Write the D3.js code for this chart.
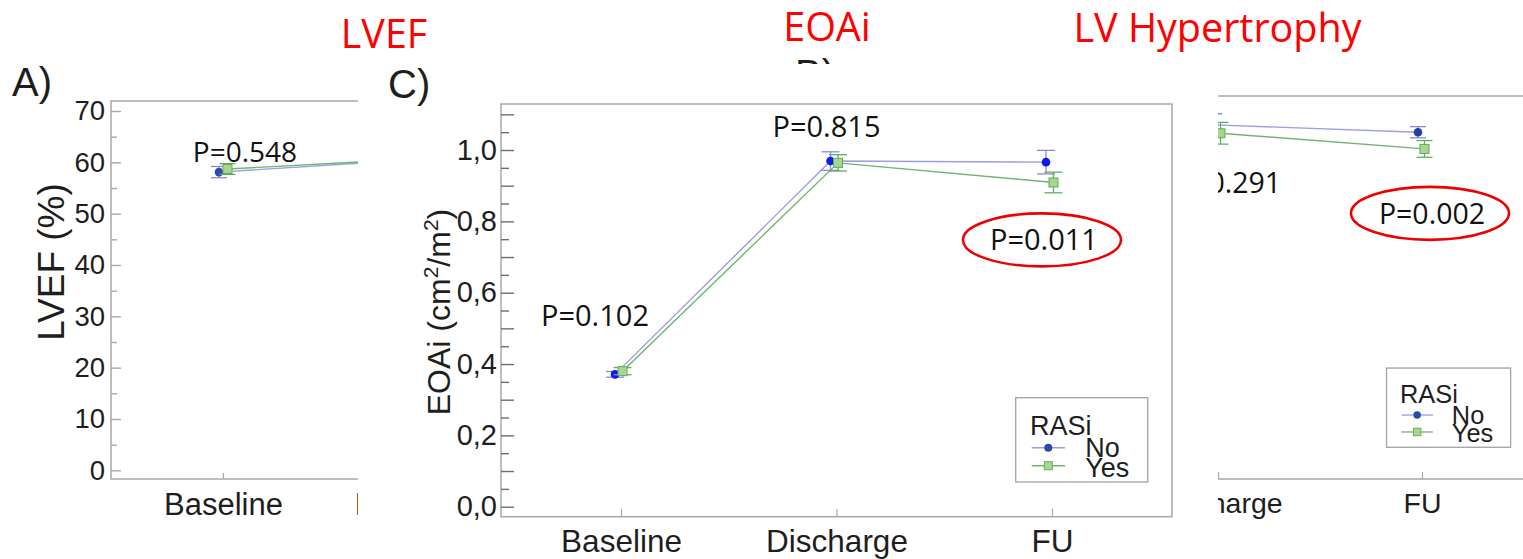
<!DOCTYPE html>
<html><head><meta charset="utf-8">
<script src="https://cdn.jsdelivr.net/npm/d3@7"></script>
<style>body{margin:0;background:#fff}svg{display:block}</style>
</head><body>
<svg id="chart" width="1523" height="559"></svg>
<script>
// ---------- data ----------
const categories = ["Baseline", "Discharge", "FU"];
const groups = ["No", "Yes"];
const legendTitle = "RASi";
const panelTitles = ["LVEF", "EOAi", "LV Hypertrophy"];
const panelLetters = ["A)", "B)", "C)"];

// A) LVEF (%)
const lvefNo = [58.1, 60.6, null];
const lvefNoErr = [1.1, 1.0, null];
const lvefYes = [58.7, 60.8, null];
const lvefYesErr = [1.05, 1.0, null];
const lvefTicks = [0, 10, 20, 30, 40, 50, 60, 70];
const lvefTickLabels = ["0", "10", "20", "30", "40", "50", "60", "70"];
const lvefMinor = [5, 15, 25, 35, 45, 55, 65];
const lvefP = ["P=0.548", null, null];
const lvefPSig = [false, false, false];

// C) EOAi (cm2/m2)
const eoaiNo = [0.371, 0.969, 0.966];
const eoaiNoErr = [0.008, 0.026, 0.033];
const eoaiYes = [0.380, 0.964, 0.909];
const eoaiYesErr = [0.010, 0.023, 0.029];
const eoaiTicks = [0, 0.2, 0.4, 0.6, 0.8, 1.0];
const eoaiTickLabels = ["0,0", "0,2", "0,4", "0,6", "0,8", "1,0"];
const eoaiMidTicks = [0.1, 0.3, 0.5, 0.7, 0.9, 1.1];
const eoaiMinor = [0.05, 0.15, 0.25, 0.35, 0.45, 0.55, 0.65, 0.75, 0.85, 0.95, 1.05];
const eoaiP = ["P=0.102", "P=0.815", "P=0.011"];
const eoaiPSig = [false, false, true];

// B) LV Hypertrophy (LV mass index, axis hidden behind panel C)
const lvhNo = [null, 141.7, 139.6];
const lvhNoErr = [null, 3.2, 1.6];
const lvhYes = [null, 139.3, 134.8];
const lvhYesErr = [null, 3.1, 2.4];
const lvhP = [null, "P=0.291", "P=0.002"];
const lvhPSig = [false, false, true];

// ---------- styles ----------
const AX = "#a8a8a8", TXT = "#1e1e1e";
const NO_LINE = "#9d9de2", YES_LINE = "#6fb56f";
const YES_FILL = "#a9d68f", YES_STROKE = "#62ab5c";
const SANS = "'Liberation Sans', Arial, sans-serif";
const CAL = "'Open Sans', 'Noto Sans', sans-serif";

const svg = d3.select("#chart");
svg.append("rect").attr("width", 1523).attr("height", 559).attr("fill", "#fff");
const defs = svg.append("defs");
defs.append("clipPath").attr("id", "clipA").append("rect")
  .attr("x", 0).attr("y", 0).attr("width", 358).attr("height", 559);
const cB = defs.append("clipPath").attr("id", "clipB");
cB.append("rect").attr("x", 1218).attr("y", 0).attr("width", 305).attr("height", 559);
cB.append("rect").attr("x", 0).attr("y", 0).attr("width", 1523).attr("height", 64);

function tickGroup(g, o, y, values, len, labels) {
  const ax = d3.axisLeft(y).tickValues(values).tickSize(-len).tickPadding(o.tickPad);
  ax.tickFormat(labels ? (d, i) => labels[i] : () => null);
  const a = g.append("g").attr("transform", `translate(${o.left},0)`).call(ax);
  a.select(".domain").remove();
  a.selectAll("line").attr("stroke", o.tickColor || AX).attr("stroke-width", 1.4);
  if (labels) a.selectAll("text").attr("font-family", SANS).attr("font-size", o.tickFont).attr("fill", TXT);
  else a.selectAll("text").remove();
}

function drawPanel(g, o) {
  const x = d3.scalePoint().domain(categories).range([o.left, o.right]).padding(o.pad);
  const y = d3.scaleLinear().domain(o.yDomain).range([o.bottom, o.top]);

  // frame
  g.append("rect").attr("x", o.left).attr("y", o.top)
    .attr("width", o.right - o.left).attr("height", o.bottom - o.top)
    .attr("fill", "none").attr("stroke", AX).attr("stroke-width", 1.5);

  // y axis
  if (o.major) {
    tickGroup(g, o, y, o.major, o.majorLen, o.majorLabels);
    if (o.mid) tickGroup(g, o, y, o.mid, o.majorLen, null);
    tickGroup(g, o, y, o.minor, o.minorLen, null);
  }
  // x axis
  const xa = g.append("g").attr("transform", `translate(0,${o.bottom})`)
    .call(d3.axisBottom(x).tickSize(-o.xTickLen).tickPadding(o.xPad));
  xa.select(".domain").remove();
  xa.selectAll("line").attr("stroke", AX).attr("stroke-width", 1.2);
  xa.selectAll("text").attr("font-family", SANS).attr("font-size", o.xFont).attr("fill", TXT);

  // y label
  if (o.ylabel) o.ylabel(g);

  // series
  const series = { No: [o.no, o.noErr], Yes: [o.yes, o.yesErr] };
  const line = d3.line().defined(d => d.v != null).x(d => d.x).y(d => y(d.v));
  const pts = {};
  groups.forEach(k => {
    pts[k] = categories.map((c, i) => ({ x: x(c) + o.dodge[k], v: series[k][0][i], e: series[k][1][i] }));
    g.append("path").datum(pts[k]).attr("d", line).attr("fill", "none")
      .attr("stroke", k === "No" ? NO_LINE : YES_LINE).attr("stroke-width", 1.4);
  });
  groups.forEach(k => {
    const valid = pts[k].filter(d => d.v != null);
    const eb = g.append("g").attr("stroke", k === "No" ? "#8a8ad8" : "#5fae5f").attr("stroke-width", 1.3);
    valid.forEach(d => {
      eb.append("line").attr("x1", d.x).attr("x2", d.x).attr("y1", y(d.v - d.e)).attr("y2", y(d.v + d.e));
      [d.v - d.e, d.v + d.e].forEach(v => eb.append("line")
        .attr("x1", d.x - o.capW / 2).attr("x2", d.x + o.capW / 2).attr("y1", y(v)).attr("y2", y(v)));
    });
    if (k === "No") {
      g.selectAll(null).data(valid).join("circle").attr("cx", d => d.x).attr("cy", d => y(d.v))
        .attr("r", 4.3).attr("fill", o.noDot);
    } else {
      g.selectAll(null).data(valid).join("rect").attr("x", d => d.x - 4.5).attr("y", d => y(d.v) - 4.5)
        .attr("width", 9).attr("height", 9).attr("fill", YES_FILL).attr("stroke", YES_STROKE).attr("stroke-width", 1);
    }
  });

  // p-values
  o.pTexts.forEach((t, i) => {
    if (!t) return;
    const cx = x(categories[i]) + o.pPos[i][0], cy = y(o.pPos[i][1]);
    g.append("text").attr("x", cx).attr("y", cy).attr("dy", "0.36em")
      .attr("text-anchor", "middle").attr("font-family", CAL).attr("font-size", o.pFont)
      .attr("fill", "#111").text(t);
    if (o.pSig[i]) {
      g.append("ellipse").attr("cx", cx - 2).attr("cy", cy).attr("rx", 79).attr("ry", 26.5)
        .attr("fill", "none").attr("stroke", "#ee0000").attr("stroke-width", 2.6);
    }
  });

  // legend
  if (o.legend) {
    const s = o.legend.s;
    const bw = 132 * s, bh = 84.3 * s;
    const bx = o.right - o.legend.dr - bw, by = o.bottom - o.legend.db - bh;
    const lg = g.append("g").attr("transform", `translate(${bx},${by}) scale(${s})`);
    lg.append("rect").attr("width", 132).attr("height", 84.3).attr("fill", "#fff")
      .attr("stroke", AX).attr("stroke-width", 1.4 / s);
    lg.append("text").attr("x", 14.3).attr("y", 37.3).attr("font-family", SANS)
      .attr("font-size", 27).attr("fill", TXT).text(legendTitle);
    groups.forEach((k, i) => {
      const ly = 50 + i * 18, ty = 59 + i * 20;
      lg.append("line").attr("x1", 16).attr("x2", 49.3).attr("y1", ly).attr("y2", ly)
        .attr("stroke", k === "No" ? NO_LINE : YES_LINE).attr("stroke-width", 1.4);
      if (k === "No") lg.append("circle").attr("cx", 32.6).attr("cy", ly).attr("r", 4).attr("fill", "#2c4aa8");
      else lg.append("rect").attr("x", 28.6).attr("y", ly - 4).attr("width", 8).attr("height", 8)
        .attr("fill", YES_FILL).attr("stroke", YES_STROKE);
      lg.append("text").attr("x", 69.5).attr("y", ty).attr("font-family", SANS)
        .attr("font-size", 27).attr("fill", TXT).text(k);
    });
  }
}

// ---------- Panel A (LVEF), partly covered ----------
const gA = svg.append("g").attr("clip-path", "url(#clipA)");
gA.append("text").attr("x", 12).attr("y", 96).attr("font-family", SANS).attr("font-size", 40)
  .attr("fill", TXT).text(panelLetters[0]);
drawPanel(gA, {
  left: 111, right: 737, top: 101, bottom: 479, pad: 0.557,
  yDomain: [-1.69, 71.95], major: lvefTicks, majorLabels: lvefTickLabels, minor: lvefMinor,
  majorLen: 10, minorLen: 6, tickFont: 27.5, tickPad: 6,
  xFont: 31, xPad: 14, xTickLen: 6,
  dodge: { No: -4, Yes: 4.5 }, capW: 16, noDot: "#2c4aa8",
  no: lvefNo, noErr: lvefNoErr, yes: lvefYes, yesErr: lvefYesErr,
  pTexts: lvefP, pSig: lvefPSig, pPos: [[22, 62.1], [0, 0], [0, 0]], pFont: 28,
  ylabel: g => g.append("text").attr("transform", "translate(64,262) rotate(-90)")
    .attr("text-anchor", "middle").attr("font-family", SANS).attr("font-size", 37)
    .attr("fill", TXT).text("LVEF (%)")
});

// ---------- Panel B (LV hypertrophy), partly covered ----------
const gB = svg.append("g").attr("clip-path", "url(#clipB)");
gB.append("text").attr("x", 795).attr("y", 88).attr("font-family", SANS).attr("font-size", 40)
  .attr("fill", TXT).text(panelLetters[1]);
drawPanel(gB, {
  left: 900.4, right: 1535.6, top: 96, bottom: 479, pad: 0.557,
  yDomain: [40, 150], major: null,
  xFont: 28.5, xPad: 14, xTickLen: 7,
  dodge: { No: -4, Yes: 2.5 }, capW: 16, noDot: "#24409e",
  no: lvhNo, noErr: lvhNoErr, yes: lvhYes, yesErr: lvhYesErr,
  pTexts: lvhP, pSig: lvhPSig, pPos: [[0, 0], [10, 125.0], [10, 116.3]], pFont: 28.5,
  legend: { s: 0.94, dr: 25, db: 31.7 }
});

// ---------- Panel C (EOAi) on top ----------
const gC = svg.append("g");
gC.append("rect").attr("x", 358).attr("y", 64).attr("width", 860).attr("height", 495).attr("fill", "#fff");
gC.append("text").attr("x", 388).attr("y", 98).attr("font-family", SANS).attr("font-size", 40)
  .attr("fill", TXT).text(panelLetters[2]);
drawPanel(gC, {
  left: 501, right: 1172, top: 104, bottom: 516.7, pad: 0.557,
  yDomain: [-0.028, 1.129], major: eoaiTicks, majorLabels: eoaiTickLabels, mid: eoaiMidTicks, minor: eoaiMinor,
  majorLen: 13, minorLen: 8, tickFont: 29, tickPad: 4, tickColor: "#6e6e6e",
  xFont: 31.5, xPad: 13, xTickLen: 8,
  dodge: { No: -6, Yes: 1.5 }, capW: 18, noDot: "#0a1af0",
  no: eoaiNo, noErr: eoaiNoErr, yes: eoaiYes, yesErr: eoaiYesErr,
  pTexts: eoaiP, pSig: eoaiPSig, pPos: [[-26, 0.535], [-10, 1.065], [-8, 0.748]], pFont: 29,
  legend: { s: 1, dr: 24.3, db: 34.7 },
  ylabel: g => {
    const t = g.append("text").attr("transform", "translate(450,312) rotate(-90)")
      .attr("text-anchor", "middle").attr("font-family", SANS).attr("font-size", 32).attr("fill", TXT);
    t.append("tspan").text("EOAi (cm");
    t.append("tspan").attr("dy", -12).attr("font-size", 21).text("2");
    t.append("tspan").attr("dy", 12).text("/m");
    t.append("tspan").attr("dy", -12).attr("font-size", 21).text("2");
    t.append("tspan").attr("dy", 12).text(")");
  }
});

// ---------- red titles ----------
const titleX = [384, 827, 1217.5], titleY = [48, 41, 42];
panelTitles.forEach((t, i) => svg.append("text").attr("x", titleX[i]).attr("y", titleY[i])
  .attr("text-anchor", "middle").attr("font-family", CAL).attr("font-size", 39.5)
  .attr("fill", "#ff0000").text(t));
</script>
</body></html>
